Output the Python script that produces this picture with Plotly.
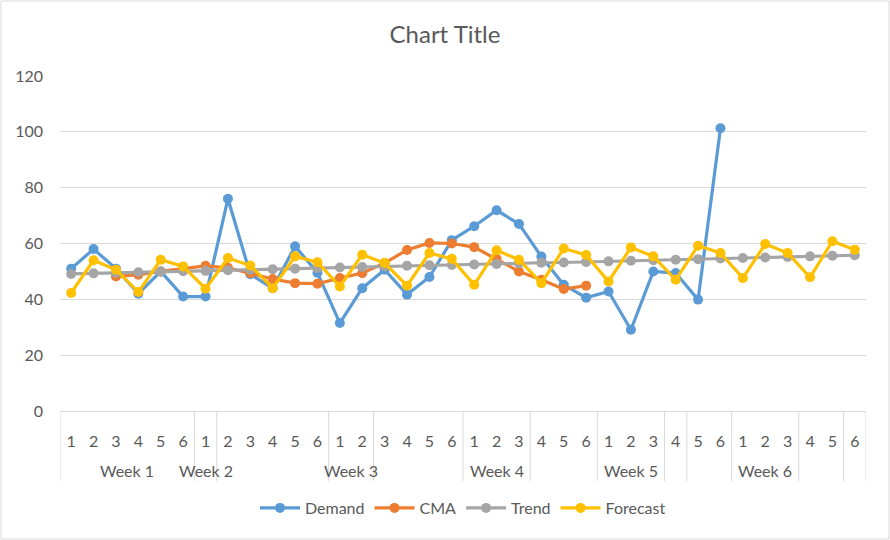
import plotly.graph_objects as go

# ---- data ----
day_labels = ["1", "2", "3", "4", "5", "6"] * 6
# top-level category groups as they appear (label, number of categories spanned)
week_groups = [("Week 1", 6), ("Week 2", 1), ("", 5), ("Week 3", 2), ("", 4),
               ("Week 4", 3), ("", 3), ("Week 5", 3), ("", 1), ("", 2),
               ("Week 6", 3), ("", 2), ("", 1)]

demand = [51, 58, 51, 42, 50, 41, 41, 76, 49, 44, 59, 49.5, 31.5, 44, 50.6, 41.7,
          48, 61.2, 66.2, 71.9, 67, 55.3, 45.2, 40.6, 42.8, 29.1, 50, 49.4, 39.9, 101.3]
cma_start = 2
cma = [48.2, 48.8, 50.0, 51.0, 52.0, 51.3, 49.4, 47.3, 45.8, 45.6, 47.6, 49.4,
       53.0, 57.7, 60.2, 60.0, 58.7, 54.5, 50.0, 47.0, 43.7, 44.9]
trend = [49.1, 49.3, 49.5, 49.7, 49.9, 50.1, 50.2, 50.4, 50.6, 50.8, 51.0, 51.2,
         51.4, 51.6, 51.8, 52.0, 52.2, 52.3, 52.5, 52.7, 52.9, 53.1, 53.2, 53.4,
         53.6, 53.8, 54.0, 54.2, 54.4, 54.6, 54.8, 55.0, 55.2, 55.4, 55.6, 55.8]
forecast = [42.3, 54.0, 50.6, 42.6, 54.2, 51.8, 43.8, 54.8, 52.1, 44.0, 55.4, 53.3,
            44.6, 56.0, 53.0, 44.9, 56.6, 54.5, 45.2, 57.6, 54.2, 45.8, 58.2, 55.9,
            46.4, 58.6, 55.4, 47.0, 59.2, 56.6, 47.6, 59.8, 56.6, 47.9, 60.8, 57.8]

series_names = ["Demand", "CMA", "Trend", "Forecast"]
colors = ["#5B9BD5", "#ED7D31", "#A5A5A5", "#FFC000"]
TXT = "#595959"
GRID = "#D9D9D9"

fig = go.Figure()
specs = [(0, demand), (cma_start, cma), (0, trend), (0, forecast)]
for (start, vals), name, col in zip(specs, series_names, colors):
    fig.add_trace(go.Scatter(
        x=list(range(start, start + len(vals))), y=vals, name=name, mode="lines+markers",
        line=dict(color=col, width=3.2), marker=dict(color=col, size=10),
        cliponaxis=False))

W, H = 890, 540
L, R, T, B = 60, 24, 76, 129
pw, ph = W - L - R, H - T - B


def py(pix):
    """pixel row in the page -> paper y"""
    return (T + ph - pix) / ph


n = len(day_labels)
fig.update_layout(
    width=W, height=H,
    margin=dict(l=L, r=R, t=T, b=B, autoexpand=False),
    paper_bgcolor="white", plot_bgcolor="white",
    font=dict(family="Lato, 'Noto Sans', sans-serif", color=TXT, size=16),
    title=dict(text="Chart Title", x=0.5, xanchor="center", y=1 - 35 / H,
               yanchor="middle", font=dict(size=24, color=TXT)),
    showlegend=True,
    legend=dict(orientation="h", x=0.5, xanchor="center", y=py(508),
                yanchor="middle", font=dict(size=16, color=TXT), itemwidth=40,
                bgcolor="rgba(0,0,0,0)", traceorder="normal"),
    xaxis=dict(range=[-0.5, n - 0.5], tickmode="array", tickvals=list(range(n)),
               ticktext=day_labels, showgrid=False, showline=True, linecolor=GRID,
               linewidth=1, zeroline=False, ticks="", ticklabelstandoff=16,
               tickfont=dict(size=16, color=TXT), automargin=False, fixedrange=True),
    yaxis=dict(range=[0, 120], dtick=20, showgrid=True, gridcolor=GRID, gridwidth=1,
               zeroline=False, showline=False, tickfont=dict(size=16, color=TXT),
               ticklabelstandoff=16, automargin=False, fixedrange=True),
)

# category group dividers and week labels
pos = 0
bounds = [0]
for label, span in week_groups:
    if label:
        fig.add_annotation(x=pos + (span - 1) / 2, y=py(470), xref="x", yref="paper",
                           text=label, showarrow=False, yanchor="middle",
                           font=dict(size=16, color=TXT))
    pos += span
    bounds.append(pos)
for b in bounds:
    fig.add_shape(type="line", xref="x", yref="paper", x0=b - 0.5, x1=b - 0.5,
                  y0=0, y1=py(481), line=dict(color=GRID, width=1))

# outer chart border
fig.add_shape(type="rect", xref="paper", yref="paper",
              x0=(1 - L) / pw, x1=(W - 1 - L) / pw,
              y0=py(H - 1), y1=py(1),
              line=dict(color=GRID, width=1), layer="below")

fig.write_html("out.html", config={"displayModeBar": False},
               post_script="document.body.style.margin='0px';")
